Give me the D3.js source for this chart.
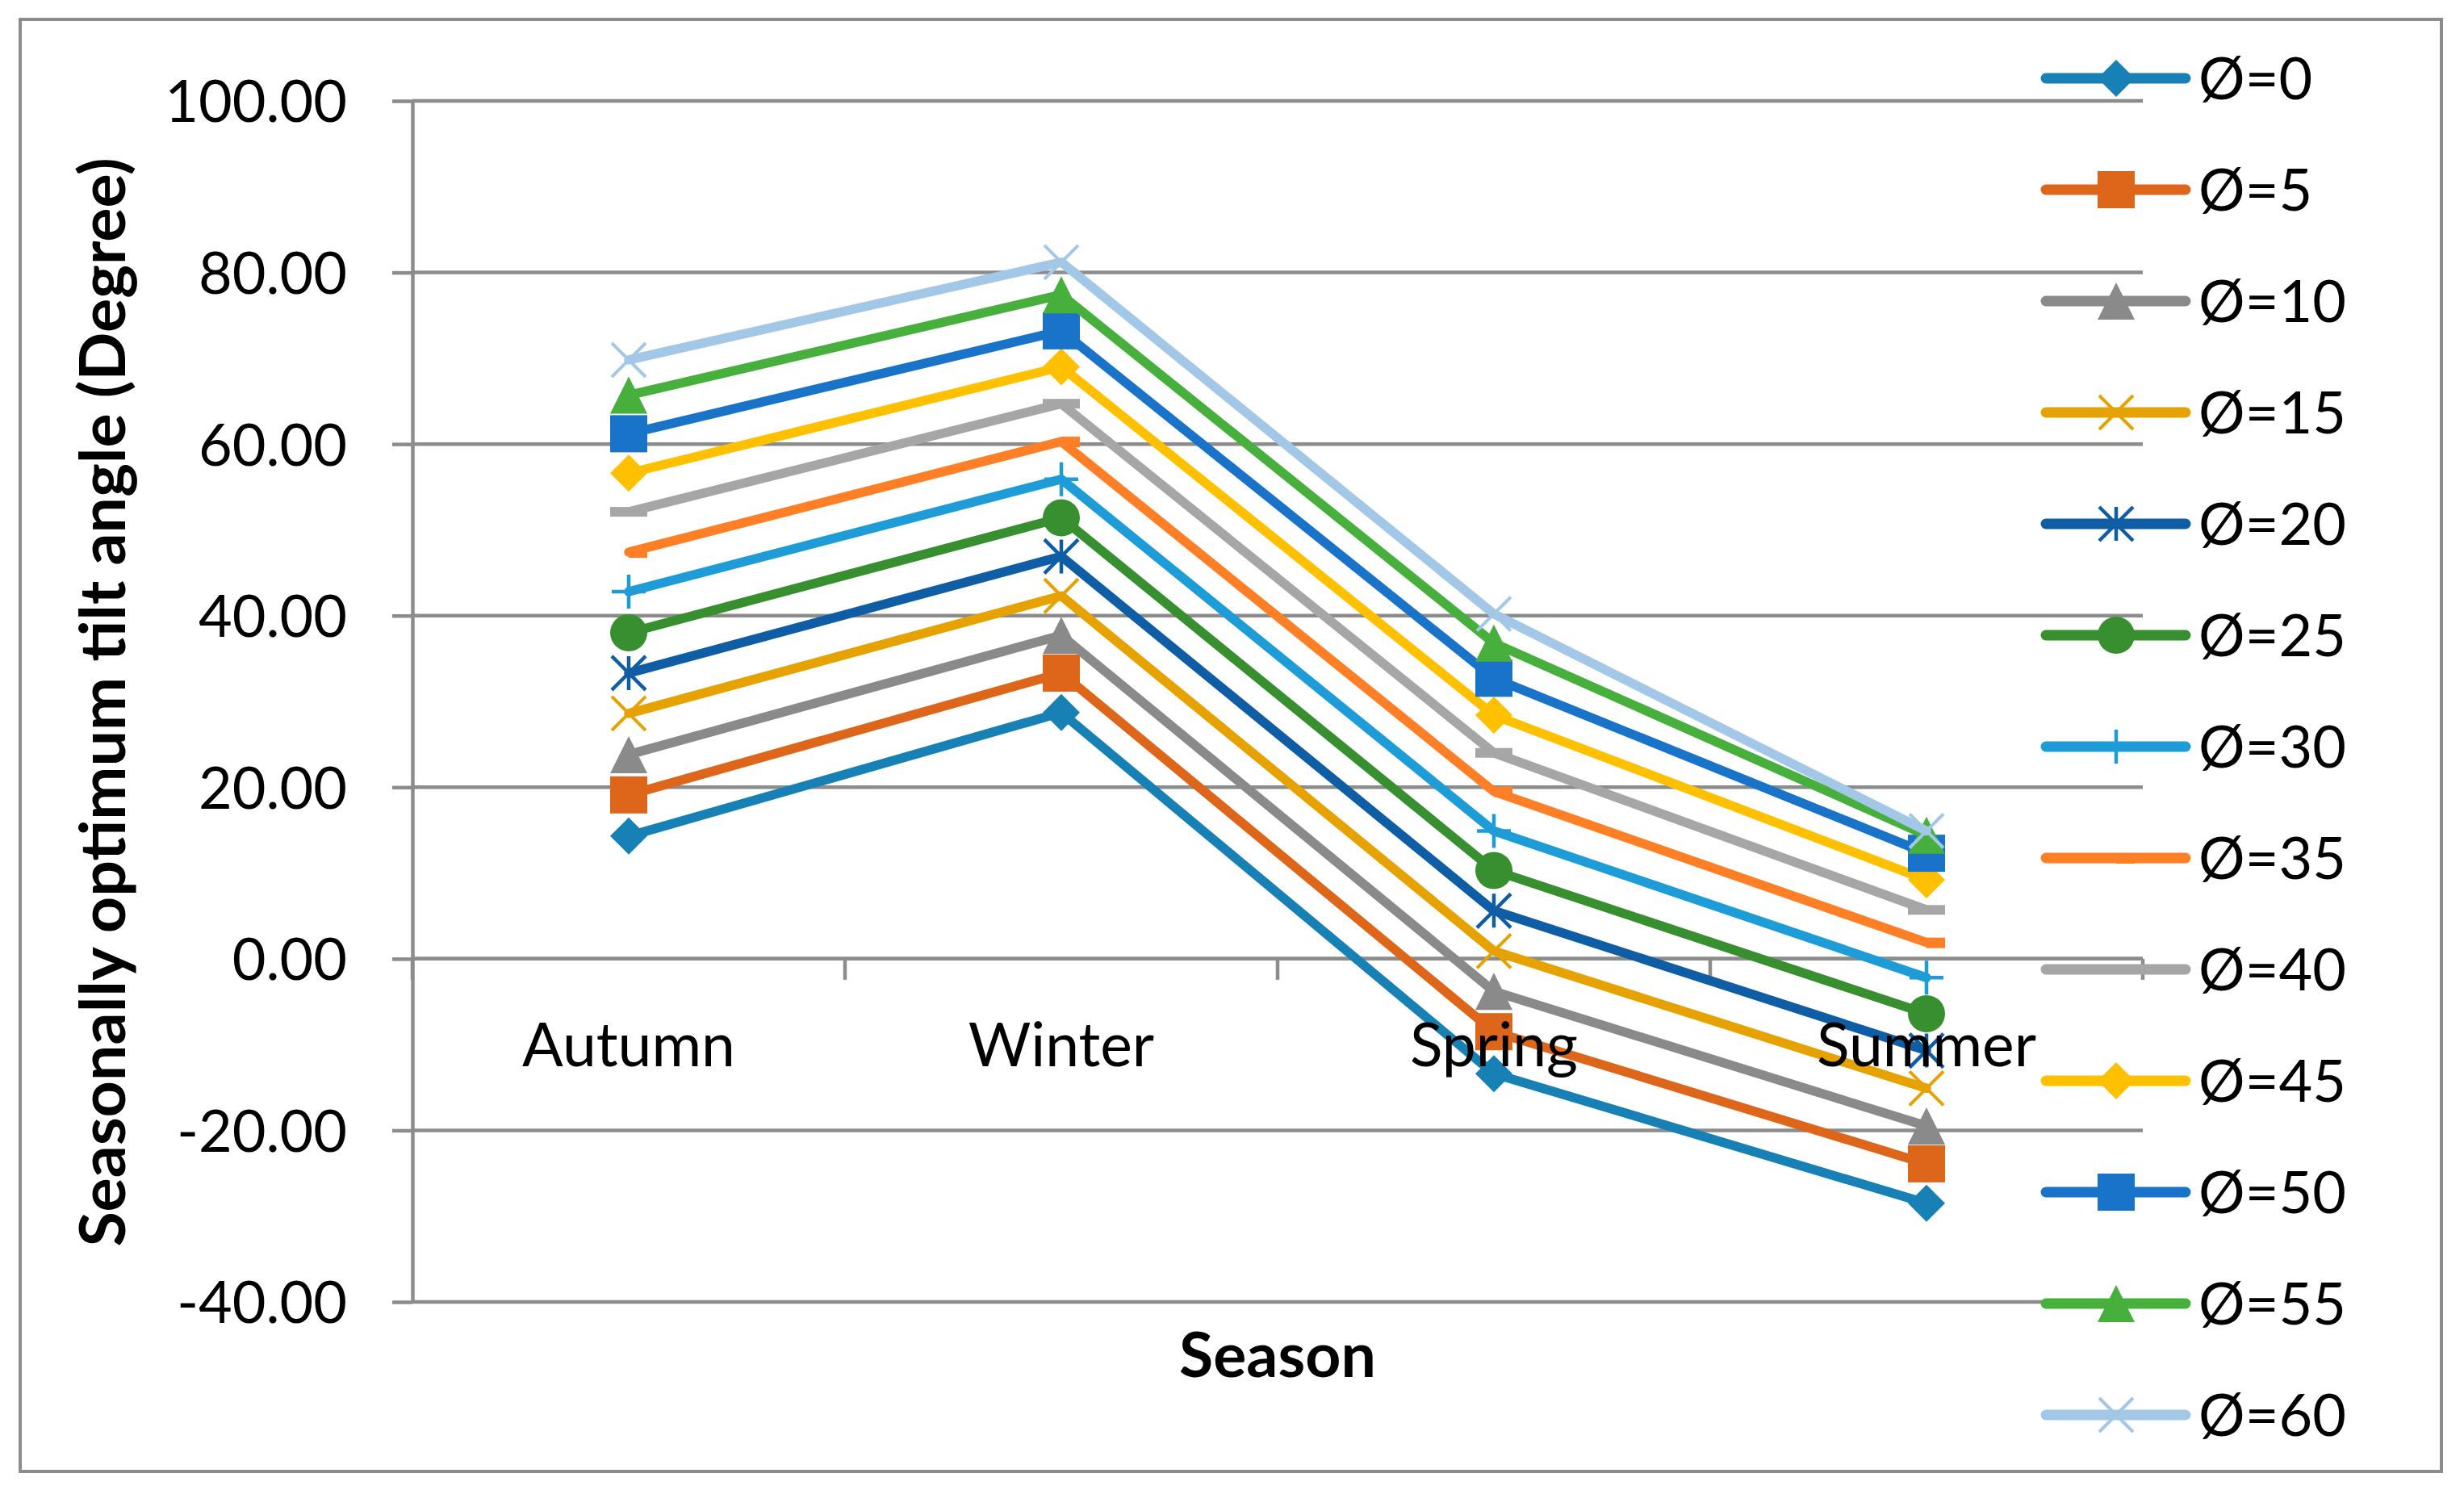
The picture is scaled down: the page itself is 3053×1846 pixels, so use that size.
<!DOCTYPE html>
<html>
<head>
<meta charset="utf-8">
<script src="https://cdn.jsdelivr.net/npm/d3@7/dist/d3.min.js"></script>
<style>
body { margin: 0; background: #fff; }
#visual { width: 3053px; height: 1846px; }
text { font-family: Lato, "Open Sans", sans-serif; fill: #000; }
</style>
</head>
<body>
<div id="visual"></div>
<script>
// data
var seasons = ["Autumn", "Winter", "Spring", "Summer"];
var latitudes = [0, 5, 10, 15, 20, 25, 30, 35, 40, 45, 50, 55, 60];
var autumn = [14.3, 19.1, 23.8, 28.6, 33.3, 38.0, 42.8, 47.4, 52.1, 56.6, 61.2, 65.7, 69.8];
var winter = [28.7, 33.3, 37.7, 42.3, 46.9, 51.4, 55.9, 60.3, 64.7, 69.0, 73.2, 77.4, 81.2];
var spring = [-13.4, -8.5, -3.8, 0.9, 5.6, 10.3, 14.9, 19.5, 24.0, 28.4, 32.7, 36.8, 40.2];
var summer = [-28.5, -23.9, -19.5, -15.1, -10.7, -6.4, -2.2, 1.9, 5.7, 9.2, 12.3, 14.4, 14.9];
var yTicks = [-40, -20, 0, 20, 40, 60, 80, 100];

// styles, one per latitude
var colors = ["#1780b4", "#de661b", "#8a8a8a", "#e6a201", "#0f5da5", "#378f2f", "#1e9cd8",
              "#ff7f27", "#a6a6a6", "#ffc000", "#1873c9", "#47af3b", "#a3c7e7"];
var markers = ["diamond", "square", "triangle", "x", "star", "circle", "plus",
               "shortdash", "dash", "diamond", "square", "triangle", "x"];

var width = 3053, height = 1846;
var gridColor = "#8c8c8c";

var byLat = latitudes.map(function (lat, i) {
    return {
        name: "\u00d8=" + lat,
        color: colors[i],
        marker: markers[i],
        values: [autumn[i], winter[i], spring[i], summer[i]]
    };
});

var svg = d3.select("#visual").append("svg")
    .attr("width", width)
    .attr("height", height);

svg.append("rect")
    .attr("x", 25).attr("y", 24)
    .attr("width", 3000).attr("height", 1799)
    .attr("fill", "#fff")
    .attr("stroke", gridColor)
    .attr("stroke-width", 4);

var x = d3.scaleBand()
    .domain(seasons)
    .range([511, 2655]);

var y = d3.scaleLinear()
    .domain([-40, 100])
    .range([1613, 125]);

function cx(s) { return x(s) + x.bandwidth() / 2; }

// horizontal gridlines
svg.append("g").selectAll("line")
    .data(yTicks)
  .enter().append("line")
    .attr("x1", 511).attr("x2", 2655)
    .attr("y1", function (d) { return y(d); })
    .attr("y2", function (d) { return y(d); })
    .attr("stroke", gridColor)
    .attr("stroke-width", 4.5);

var yAxis = svg.append("g")
    .attr("transform", "translate(511,0)")
    .call(d3.axisLeft(y)
        .tickValues(yTicks)
        .tickFormat(function (d) { return d.toFixed(2); })
        .tickSizeInner(25)
        .tickSizeOuter(0)
        .tickPadding(56));
yAxis.selectAll("path, line").attr("stroke", gridColor).attr("stroke-width", 4.5);
yAxis.selectAll("text")
    .attr("font-size", 72)
    .attr("font-family", "Lato")
    .attr("fill", "#000")
    .attr("dy", "0.36em");

// category axis crosses at zero
var xAxis = svg.append("g").attr("transform", "translate(0," + y(0) + ")");
xAxis.append("line")
    .attr("x1", 511).attr("x2", 2655)
    .attr("stroke", gridColor).attr("stroke-width", 4.5);
xAxis.selectAll(".tick")
    .data(seasons.map(function (s) { return x(s); }).concat([x.range()[1]]))
  .enter().append("line")
    .attr("class", "tick")
    .attr("x1", function (d) { return d; })
    .attr("x2", function (d) { return d; })
    .attr("y1", 0).attr("y2", 26)
    .attr("stroke", gridColor).attr("stroke-width", 4.5);

function drawMarker(g, kind, color) {
    var s = 23;
    if (kind === "diamond") {
        g.append("path").attr("d", "M0," + (-s) + "L" + s + ",0L0," + s + "L" + (-s) + ",0Z").attr("fill", color);
    } else if (kind === "square") {
        g.append("rect").attr("x", -s).attr("y", -s).attr("width", 2 * s).attr("height", 2 * s).attr("fill", color);
    } else if (kind === "triangle") {
        g.append("path").attr("d", "M0," + (-s) + "L" + s + "," + s + "L" + (-s) + "," + s + "Z").attr("fill", color);
    } else if (kind === "circle") {
        g.append("circle").attr("r", s).attr("fill", color);
    } else if (kind === "dash") {
        g.append("rect").attr("x", -s).attr("y", -6).attr("width", 2 * s).attr("height", 12).attr("fill", color);
    } else if (kind === "shortdash") {
        g.append("rect").attr("x", 0).attr("y", -6).attr("width", s).attr("height", 13).attr("fill", color);
    } else {
        var r = 21, p = "";
        if (kind === "x" || kind === "star") p += "M" + (-r) + "," + (-r) + "L" + r + "," + r + "M" + (-r) + "," + r + "L" + r + "," + (-r);
        if (kind === "star" || kind === "plus") p += "M0," + (-r) + "L0," + r;
        if (kind === "plus") p += "M" + (-r) + ",0L" + r + ",0";
        g.append("path").attr("d", p).attr("fill", "none")
            .attr("stroke", color).attr("stroke-width", kind === "x" ? 4 : 4.5);
    }
}

var line = d3.line()
    .x(function (d, i) { return cx(seasons[i]); })
    .y(function (d) { return y(d); });

var series = svg.selectAll(".series")
    .data(byLat)
  .enter().append("g")
    .attr("class", "series");

series.append("path")
    .attr("d", function (d) { return line(d.values); })
    .attr("fill", "none")
    .attr("stroke", function (d) { return d.color; })
    .attr("stroke-width", 11.5)
    .attr("stroke-linecap", "round")
    .attr("stroke-linejoin", "round");

series.each(function (d) {
    var g = d3.select(this);
    d.values.forEach(function (v, i) {
        var m = g.append("g").attr("transform", "translate(" + cx(seasons[i]) + "," + y(v) + ")");
        drawMarker(m, d.marker, d.color);
    });
});

// category labels sit on top of the lines
svg.append("g").selectAll("text")
    .data(seasons)
  .enter().append("text")
    .attr("x", function (d) { return cx(d); })
    .attr("y", 1321)
    .attr("text-anchor", "middle")
    .attr("font-size", 75)
    .text(function (d) { return d; });

svg.append("text")
    .attr("transform", "translate(155,870) rotate(-90)")
    .attr("text-anchor", "middle")
    .attr("font-size", 79)
    .attr("font-weight", "bold")
    .text("Seasonally optimum tilt angle (Degree)");

svg.append("text")
    .attr("x", 1583)
    .attr("y", 1706)
    .attr("text-anchor", "middle")
    .attr("font-size", 77)
    .attr("font-weight", "bold")
    .text("Season");

// legend
var legend = svg.selectAll(".legend")
    .data(byLat)
  .enter().append("g")
    .attr("class", "legend")
    .attr("transform", function (d, i) { return "translate(0," + (97 + i * 138) + ")"; });

legend.append("line")
    .attr("x1", 2535).attr("x2", 2708)
    .attr("stroke", function (d) { return d.color; })
    .attr("stroke-width", 13)
    .attr("stroke-linecap", "round");

legend.each(function (d) {
    drawMarker(d3.select(this).append("g").attr("transform", "translate(2622,0)"), d.marker, d.color);
});

legend.append("text")
    .attr("x", 2724)
    .attr("dy", "0.36em")
    .attr("font-size", 72)
    .text(function (d) { return d.name; });
</script>
</body>
</html>
